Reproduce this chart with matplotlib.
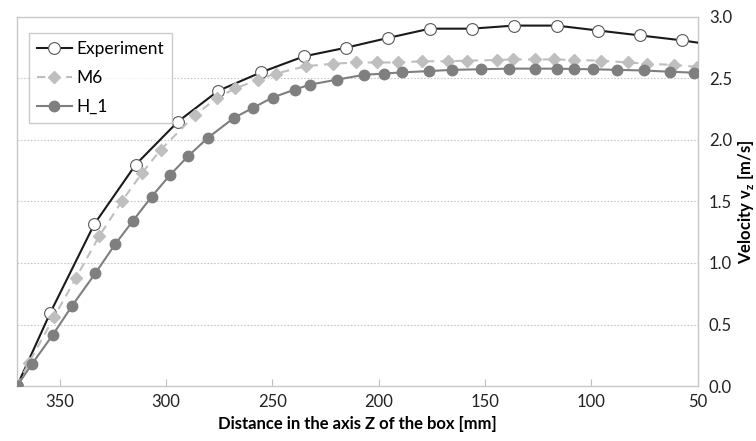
import matplotlib
matplotlib.use("Agg")
import matplotlib.pyplot as plt

plt.rcParams['font.family'] = ['Lato', 'DejaVu Sans']

# Experiment (open circles)
exp_z = [370, 354.5, 333.7, 314.2, 294.3, 275.4, 255.3, 235.1, 215.4, 195.5,
         175.9, 156.3, 136.3, 116.4, 96.8, 77.1, 57.4, 37.7]
exp_v = [0.0, 0.59, 1.315, 1.80, 2.15, 2.40, 2.55, 2.68, 2.75, 2.83,
         2.905, 2.905, 2.93, 2.93, 2.89, 2.85, 2.81, 2.76]

# M6 (diamonds, dashed)
m6_z = [370, 364.4, 352.5, 342.4, 331.3, 320.8, 311.1, 302.5, 286.4, 276.2,
        267.3, 256.9, 248.3, 234.2, 221.4, 210.7, 201.0, 190.8, 179.5, 167.3,
        158.4, 144.6, 136.8, 126.6, 117.6, 108.2, 95.3, 82.8, 73.9, 61.0, 50.6]
m6_v = [0.0, 0.19, 0.563, 0.876, 1.22, 1.50, 1.735, 1.92, 2.20, 2.34,
        2.42, 2.49, 2.54, 2.60, 2.62, 2.63, 2.63, 2.63, 2.64, 2.64,
        2.645, 2.65, 2.655, 2.655, 2.655, 2.65, 2.645, 2.63, 2.62, 2.61, 2.595]

# H_1 (filled circles)
h1_z = [370, 363.1, 353.2, 344.2, 333.2, 323.9, 315.4, 306.7, 298.1, 289.5,
        280.1, 268.0, 259.2, 249.9, 239.4, 232.3, 219.8, 206.8, 197.5, 188.9,
        176.4, 165.7, 152.0, 138.8, 126.7, 116.4, 108.4, 99.2, 87.8, 75.5, 63.1, 51.7]
h1_v = [0.0, 0.176, 0.415, 0.65, 0.916, 1.152, 1.345, 1.54, 1.715, 1.87,
        2.02, 2.18, 2.26, 2.345, 2.41, 2.45, 2.49, 2.53, 2.54, 2.55,
        2.56, 2.57, 2.575, 2.58, 2.58, 2.58, 2.577, 2.575, 2.57, 2.565, 2.555, 2.547]

fig = plt.figure(figsize=(7.56, 4.41), dpi=100)
ax = fig.add_axes([0.0225, 0.1247, 0.9005, 0.8368])

ax.plot(exp_z, exp_v, color='#1a1a1a', linewidth=1.5, marker='o', markersize=8.5,
        markerfacecolor='white', markeredgecolor='#595959', markeredgewidth=0.8,
        label='Experiment', zorder=3)
ax.plot(m6_z, m6_v, color='#bfbfbf', linewidth=1.5, linestyle=(0, (4, 3)),
        marker='D', markersize=6, markerfacecolor='#bfbfbf', markeredgecolor='#bfbfbf',
        label='M6', zorder=4)
ax.plot(h1_z, h1_v, color='#7f7f7f', linewidth=1.5, marker='o', markersize=7.5,
        markerfacecolor='#7f7f7f', markeredgecolor='#7f7f7f',
        label='H_1', zorder=5)

ax.set_xlim(370, 50)
ax.set_ylim(0, 3.0)
ax.set_xticks([350, 300, 250, 200, 150, 100, 50])
ax.set_yticks([0, 0.5, 1.0, 1.5, 2.0, 2.5, 3.0])
ax.set_yticklabels(['0.0', '0.5', '1.0', '1.5', '2.0', '2.5', '3.0'])

ax.yaxis.tick_right()
ax.yaxis.set_label_position('right')
ax.tick_params(axis='y', length=0, labelsize=12, pad=8, labelcolor='#222222')
ax.tick_params(axis='x', direction='in', length=5, color='#bfbfbf',
               labelsize=12, pad=6, labelcolor='#222222')

ax.grid(axis='y', linestyle=(0, (1.5, 1.5)), color='#c8c8c8', linewidth=0.8)
ax.set_axisbelow(True)
for s in ax.spines.values():
    s.set_color('#c8c8c8')
    s.set_linewidth(1.0)

ax.set_xlabel('Distance in the axis Z of the box [mm]', fontsize=12,
              fontweight='bold', labelpad=4)
ax.set_ylabel('Velocity v$_\\mathregular{z}$ [m/s]', fontsize=12,
              fontweight='bold', labelpad=3)

leg = ax.legend(loc='upper left', bbox_to_anchor=(0.018, 0.957), fontsize=12.5,
                frameon=True, fancybox=False, edgecolor='#bfbfbf',
                handlelength=2.0, handletextpad=0.25, borderpad=0.45,
                labelspacing=0.75, borderaxespad=0)
leg.get_frame().set_linewidth(1.0)

fig.savefig('out.png', dpi=100)
